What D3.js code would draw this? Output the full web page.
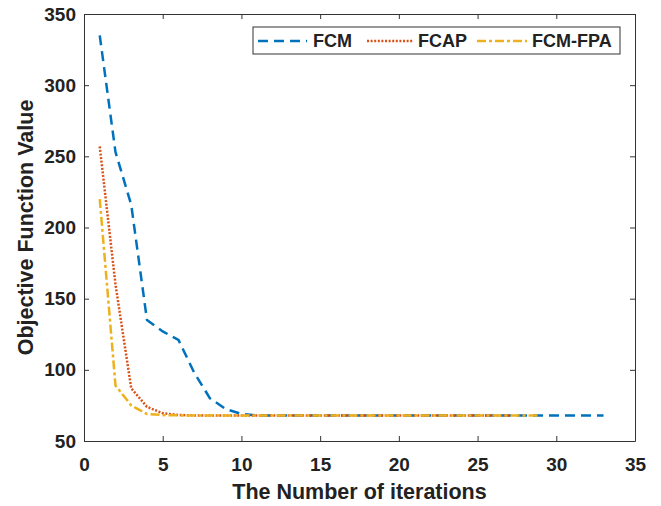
<!DOCTYPE html>
<html lang="en">
<head>
  <meta charset="utf-8">
  <title>Objective Function Value</title>
  <script src="https://cdn.jsdelivr.net/npm/d3@7/dist/d3.min.js"></script>
  <style>
    body { margin: 0; background: #fff; }
    svg text { font-family: "Liberation Sans", Arial, sans-serif; font-weight: bold; fill: #222; }
    .axis path, .axis line { stroke: #333; }
    .line { fill: none; stroke-width: 2.5px; }
  </style>
</head>
<body>
<svg width="661" height="506"></svg>
<script>

  // values
  var fcm  = [335, 253, 216, 135, 127, 121, 98, 80, 72.5, 69,
              68, 68, 68, 68, 68, 68, 68, 68, 68, 68,
              68, 68, 68, 68, 68, 68, 68, 68, 68, 68,
              68, 68, 68];
  var fcap = [257, 160, 87, 74, 69.5, 68.3, 68, 68, 68, 68,
              68, 68, 68, 68, 68, 68, 68, 68, 68, 68,
              68, 68, 68, 68, 68, 68, 68];
  var fpa  = [220, 89, 75, 69, 68.2, 68, 68, 68, 68, 68,
              68, 68, 68, 68, 68, 68, 68, 68, 68, 68,
              68, 68, 68, 68, 68, 68, 68, 68, 68];

  var seriesNames = ["FCM", "FCAP", "FCM-FPA"];
  var xTicks = [0, 5, 10, 15, 20, 25, 30, 35];
  var yTicks = [50, 100, 150, 200, 250, 300, 350];

  var svg = d3.select("svg");
  var plotLeft = 84, plotRight = 635, plotTop = 14, plotBottom = 441;

  var x = d3.scaleLinear().domain([0, 35]).range([plotLeft, plotRight]),
      y = d3.scaleLinear().domain([50, 350]).range([plotBottom, plotTop]);

  var series = [
    {name: seriesNames[0], values: fcm,  color: "#0072BD", dash: "10,6"},
    {name: seriesNames[1], values: fcap, color: "#D95319", dash: "2,1.6"},
    {name: seriesNames[2], values: fpa,  color: "#EDB120", dash: "9,3,3,3"}
  ];

  // axes (ticks point inward, box closed on top and right)
  svg.append("g")
      .attr("class", "axis")
      .attr("transform", "translate(0," + plotBottom + ")")
      .call(d3.axisBottom(x).tickValues(xTicks).tickSizeInner(-5).tickSizeOuter(0).tickPadding(17))
      .selectAll("text").style("font-size", "19px");

  svg.append("g")
      .attr("class", "axis")
      .attr("transform", "translate(" + plotLeft + ",0)")
      .call(d3.axisLeft(y).tickValues(yTicks).tickSizeInner(-5).tickSizeOuter(0).tickPadding(8))
      .selectAll("text").style("font-size", "19px");

  svg.append("g")
      .attr("class", "axis")
      .attr("transform", "translate(0," + plotTop + ")")
      .call(d3.axisTop(x).tickValues(xTicks).tickSizeInner(-5).tickSizeOuter(0).tickFormat(""));

  svg.append("g")
      .attr("class", "axis")
      .attr("transform", "translate(" + plotRight + ",0)")
      .call(d3.axisRight(y).tickValues(yTicks).tickSizeInner(-5).tickSizeOuter(0).tickFormat(""));

  svg.selectAll(".axis text").attr("fill", "#222");

  // curves
  var line = d3.line()
      .x(function(d, i) { return x(i + 1); })
      .y(function(d) { return y(d); });

  svg.selectAll(".line")
    .data(series)
    .enter().append("path")
      .attr("class", "line")
      .attr("d", function(d) { return line(d.values); })
      .style("stroke", function(d) { return d.color; })
      .style("stroke-dasharray", function(d) { return d.dash; });

  // axis titles
  svg.append("text")
      .attr("x", (plotLeft + plotRight) / 2)
      .attr("y", 499)
      .attr("text-anchor", "middle")
      .style("font-size", "21.5px")
      .text("The Number of iterations");

  svg.append("text")
      .attr("transform", "translate(33," + (plotTop + plotBottom) / 2 + ") rotate(-90)")
      .attr("text-anchor", "middle")
      .style("font-size", "21.5px")
      .text("Objective Function Value");

  // legend
  var legend = svg.append("g");
  legend.append("rect")
      .attr("x", 253).attr("y", 27)
      .attr("width", 367).attr("height", 27)
      .attr("fill", "#fff")
      .attr("stroke", "#333");

  var legendPos = [[258, 307, 313], [367, 413, 418], [477, 527, 532]];
  series.forEach(function(s, i) {
    var p = legendPos[i];
    legend.append("line")
        .attr("x1", p[0]).attr("x2", p[1])
        .attr("y1", 41).attr("y2", 41)
        .attr("stroke", s.color)
        .attr("stroke-width", 2.5)
        .attr("stroke-dasharray", s.dash);
    legend.append("text")
        .attr("x", p[2]).attr("y", 41)
        .attr("dy", "0.36em")
        .style("font-size", "18px")
        .text(s.name);
  });

</script>
</body>
</html>
